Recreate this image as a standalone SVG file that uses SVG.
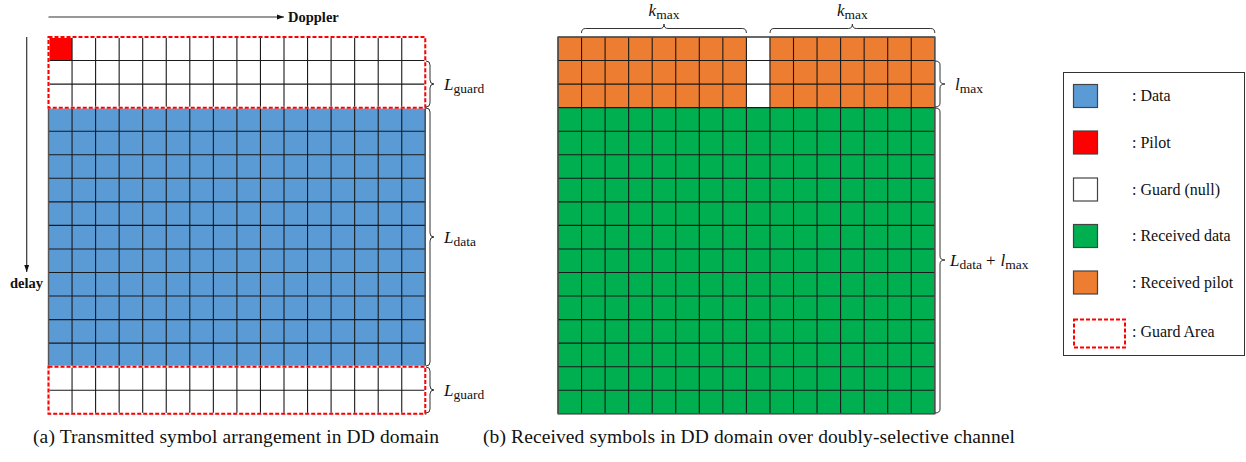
<svg xmlns="http://www.w3.org/2000/svg" width="1246" height="462" viewBox="0 0 1246 462">
<style>
.grid{fill:none;stroke:#1a1a1a;stroke-width:1.1}
.outer{fill:none;stroke:#555;stroke-width:1.3}
.brace{fill:none;stroke:#333;stroke-width:1}
.guardw{fill:none;stroke:#fff;stroke-width:2}
.guard{fill:none;stroke:#ff0000;stroke-width:2;stroke-dasharray:4 2}
.math{font-family:"Liberation Serif","DejaVu Serif",serif;font-size:17px;fill:#111}
.it{font-style:italic}
.sub{font-size:13.5px}
.cap{font-family:"Liberation Serif","Times New Roman",serif;font-size:19.5px;fill:#111}
.lg{font-family:"Liberation Serif",serif;font-size:16px;fill:#111}
.bold{font-family:"Liberation Serif",serif;font-size:14.5px;font-weight:bold;fill:#111}
.sw{stroke:#444;stroke-width:1.2}
.axis{stroke:#333;stroke-width:1.2;fill:none}
</style>
<defs>
<marker id="ah" viewBox="0 0 10 10" refX="10" refY="5" markerWidth="7" markerHeight="7" markerUnits="userSpaceOnUse" orient="auto">
<path d="M0,1.5 L10,5 L0,8.5 Z" fill="#111"/>
</marker>
</defs>
<rect width="1246" height="462" fill="#fff"/>

<g id="axes">
<line class="axis" x1="48.5" y1="17" x2="284" y2="17" marker-end="url(#ah)"/>
<text class="bold" x="288" y="22">Doppler</text>
<line class="axis" x1="26.7" y1="37" x2="26.7" y2="272" marker-end="url(#ah)"/>
<text class="bold" x="26.5" y="288" text-anchor="middle">delay</text>
</g>

<g id="grid-a">
<rect x="48.5" y="107.65" width="376.8" height="259.05" fill="#5b9bd5"/>
<rect x="48.5" y="37" width="23.55" height="23.55" fill="#ff0000"/>
<path class="grid" d="M48.5,37V413.8M72.05,37V413.8M95.6,37V413.8M119.15,37V413.8M142.7,37V413.8M166.25,37V413.8M189.8,37V413.8M213.35,37V413.8M236.9,37V413.8M260.45,37V413.8M284,37V413.8M307.55,37V413.8M331.1,37V413.8M354.65,37V413.8M378.2,37V413.8M401.75,37V413.8M425.3,37V413.8
M48.5,37H425.3M48.5,60.55H425.3M48.5,84.1H425.3M48.5,107.65H425.3M48.5,131.2H425.3M48.5,154.75H425.3M48.5,178.3H425.3M48.5,201.85H425.3M48.5,225.4H425.3M48.5,248.95H425.3M48.5,272.5H425.3M48.5,296.05H425.3M48.5,319.6H425.3M48.5,343.15H425.3M48.5,366.7H425.3M48.5,390.25H425.3M48.5,413.8H425.3"/>
<rect class="outer" x="48.5" y="37" width="376.8" height="376.8"/>
<rect class="guardw" x="48.5" y="37" width="376.8" height="70.65"/>
<rect class="guard" x="48.5" y="37" width="376.8" height="70.65"/>
<rect class="guardw" x="48.5" y="366.7" width="376.8" height="47.1"/>
<rect class="guard" x="48.5" y="366.7" width="376.8" height="47.1"/>
</g>

<g id="labels-a">
<path class="brace" d="M426,61 Q430,61 430,65 V80 Q430,84 434,84 Q430,84 430,88 V103 Q430,107 426,107"/>
<text class="math" x="444" y="90"><tspan class="it">L</tspan><tspan class="sub" dy="3">guard</tspan></text>
<path class="brace" d="M426,108 Q430,108 430,112 V233 Q430,237 434,237 Q430,237 430,241 V362 Q430,366 426,366"/>
<text class="math" x="444" y="243"><tspan class="it">L</tspan><tspan class="sub" dy="3">data</tspan></text>
<path class="brace" d="M426,367 Q430,367 430,371 V386 Q430,390 434,390 Q430,390 430,394 V409 Q430,413 426,413"/>
<text class="math" x="444" y="396"><tspan class="it">L</tspan><tspan class="sub" dy="3">guard</tspan></text>
</g>

<g id="grid-b">
<rect x="558" y="107.65" width="376.8" height="306.15" fill="#00b050"/>
<rect x="558" y="37" width="188.4" height="70.65" fill="#ed7d31"/>
<rect x="769.95" y="37" width="164.85" height="70.65" fill="#ed7d31"/>
<path class="grid" d="M558,37V413.8M581.55,37V413.8M605.1,37V413.8M628.65,37V413.8M652.2,37V413.8M675.75,37V413.8M699.3,37V413.8M722.85,37V413.8M746.4,37V413.8M769.95,37V413.8M793.5,37V413.8M817.05,37V413.8M840.6,37V413.8M864.15,37V413.8M887.7,37V413.8M911.25,37V413.8M934.8,37V413.8
M558,37H934.8M558,60.55H934.8M558,84.1H934.8M558,107.65H934.8M558,131.2H934.8M558,154.75H934.8M558,178.3H934.8M558,201.85H934.8M558,225.4H934.8M558,248.95H934.8M558,272.5H934.8M558,296.05H934.8M558,319.6H934.8M558,343.15H934.8M558,366.7H934.8M558,390.25H934.8M558,413.8H934.8"/>
<rect class="outer" x="558" y="37" width="376.8" height="376.8"/>
</g>

<g id="labels-b">
<path class="brace" d="M581.5,33 Q581.5,28.5 585.5,28.5 H660 Q664,28.5 664,24 Q664,28.5 668,28.5 H742.4 Q746.4,28.5 746.4,33"/>
<text class="math" x="664" y="16" text-anchor="middle"><tspan class="it">k</tspan><tspan class="sub" dy="3">max</tspan></text>
<path class="brace" d="M770,33 Q770,28.5 774,28.5 H848.4 Q852.4,28.5 852.4,24 Q852.4,28.5 856.4,28.5 H930.8 Q934.8,28.5 934.8,33"/>
<text class="math" x="852.4" y="16" text-anchor="middle"><tspan class="it">k</tspan><tspan class="sub" dy="3">max</tspan></text>
<path class="brace" d="M935,61 Q940,61 940,65 V80 Q940,84 945,84 Q940,84 940,88 V103 Q940,107 935,107"/>
<text class="math" x="955" y="90"><tspan class="it">l</tspan><tspan class="sub" dy="3">max</tspan></text>
<path class="brace" d="M935,108 Q940,108 940,112 V256 Q940,260 945,260 Q940,260 940,264 V409 Q940,413 935,413"/>
<text class="math" x="950" y="266"><tspan class="it">L</tspan><tspan class="sub" dy="3">data</tspan><tspan dy="-3" dx="4">+</tspan><tspan class="it" dx="5">l</tspan><tspan class="sub" dy="3">max</tspan></text>
</g>

<g id="legend">
<rect x="1063.5" y="72.5" width="181" height="283" fill="#fff" stroke="#333" stroke-width="1"/>
<rect class="sw" x="1073.5" y="84.5" width="24" height="23" fill="#5b9bd5"/>
<text class="lg" x="1132" y="101">: Data</text>
<rect class="sw" x="1073.5" y="131" width="24" height="23" fill="#ff0000"/>
<text class="lg" x="1132" y="148">: Pilot</text>
<rect class="sw" x="1073.5" y="178" width="24" height="23" fill="#fff" stroke="#777"/>
<text class="lg" x="1132" y="195">: Guard (null)</text>
<rect class="sw" x="1073.5" y="224.5" width="24" height="23" fill="#00b050"/>
<text class="lg" x="1132" y="241">: Received data</text>
<rect class="sw" x="1073.5" y="271" width="24" height="23" fill="#ed7d31"/>
<text class="lg" x="1132" y="288">: Received pilot</text>
<rect class="guard" x="1074" y="319.5" width="51" height="28"/>
<text class="lg" x="1132" y="337">: Guard Area</text>
</g>

<g id="captions">
<text class="cap" x="33" y="443" textLength="406" lengthAdjust="spacing">(a) Transmitted symbol arrangement in DD domain</text>
<text class="cap" x="483" y="443" textLength="532" lengthAdjust="spacing">(b) Received symbols in DD domain over doubly-selective channel</text>
</g>
</svg>
